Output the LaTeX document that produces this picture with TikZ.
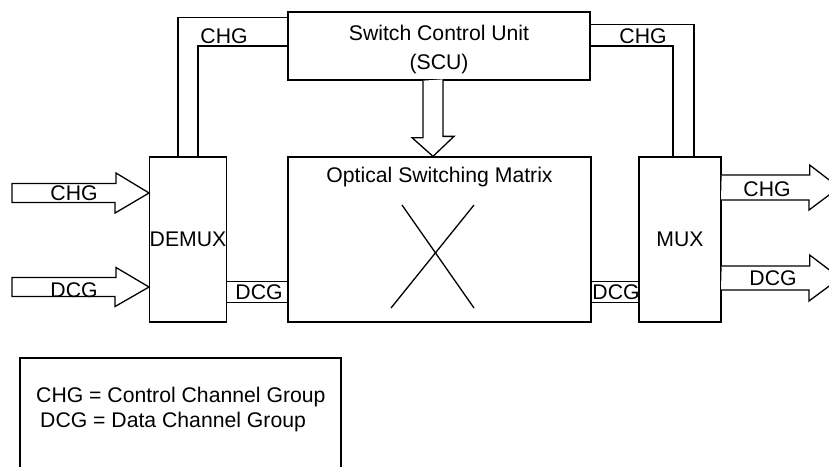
\documentclass[tikz,border=0pt]{standalone}
\usepackage{fontspec}
\setmainfont{Liberation Sans}
\usetikzlibrary{positioning}
\tikzstyle{unit}=[rectangle, draw=black, line width=1.3pt, inner sep=0pt, text centered]
\tikzstyle{line}=[-, line width=1.3pt]
\tikzstyle{fat}=[-, line width=1.3pt, line join=miter, fill=white]
\tikzstyle{lbl}=[inner sep=0pt, anchor=base]

\begin{document}
\begin{tikzpicture}[x=1pt, y=-1pt, font=\fontsize{21.2}{29}\selectfont]
    \path[use as bounding box, clip] (0,0) rectangle (829,466);

    \node (scu) [unit, minimum width=302pt, minimum height=68pt] at (439,46) {};
    \node (scutext) [lbl, align=center] at ([yshift=-58pt]scu.north) {Switch Control Unit\\(SCU)};
    \node (osm) [unit, minimum width=303pt, minimum height=165pt] at (439.5,239.5) {};
    \node (osmtext) [lbl] at ([yshift=-26pt]osm.north) {Optical Switching Matrix};
    \node (demux) [unit, minimum width=76pt, minimum height=165pt] at (188,239.5) {DEMUX};
    \node (mux) [unit, minimum width=82pt, minimum height=165pt] at (680,239.5) {MUX};

    \coordinate (chgsrc) at (12,193);
    \coordinate (dcgsrc) at (12,287);
    \coordinate (chgdst) at (839,187.5);
    \coordinate (dcgdst) at (840,278);

    % control channel groups to and from the SCU
    \draw[line] ([xshift=-10pt]demux.north) |- ([yshift=-6pt]scu.north west);
    \draw[line] ([xshift=10pt]demux.north) |- (scu.west);
    \draw[line] ([xshift=14pt]mux.north) |- ([yshift=-13pt]scu.north east);
    \draw[line] ([xshift=-7pt]mux.north) |- (scu.east);
    \node (chgleft) [lbl] at (224,43) {CHG};
    \node (chgright) [lbl] at (643,43) {CHG};

    % data channel groups through the matrix
    \draw[line] ([yshift=41pt]demux.south east) -- ([yshift=41pt]osm.south west);
    \draw[line] ([yshift=20pt]demux.south east) -- ([yshift=20pt]osm.south west);
    \draw[line] ([yshift=41pt]osm.south east) -- ([yshift=41pt]mux.south west);
    \draw[line] ([yshift=20pt]osm.south east) -- ([yshift=20pt]mux.south west);
    \node (dcgleft) [lbl] at (259,299) {DCG};
    \node (dcgright) [lbl] at (616,299) {DCG};

    % switch control
    \draw[fat] ([xshift=-16pt]scu.south) -- ++(0,57) -- ++(-11,0) -- ([xshift=-6.5pt]osm.north)
        -- ++(21,-20) -- ++(-11,0) -- ++(0,-57);
    \draw[line] ([shift={(-37.5,-34.5)}]osm.center) -- ([shift={(34.5,68.5)}]osm.center);
    \draw[line] ([shift={(34.5,-34.5)}]osm.center) -- ([shift={(-48.5,68.5)}]osm.center);

    % inputs
    \draw[fat] ([yshift=9.5pt]chgsrc) -- ++(104,0) -- ++(0,-10.5) -- (demux.west |- chgsrc)
        -- ++(-34,20) -- ++(0,-10.5) -- ([yshift=-9.5pt]chgsrc) -- cycle;
    \draw[fat] ([yshift=9.5pt]dcgsrc) -- ++(104,0) -- ++(0,-10) -- (demux.west |- dcgsrc)
        -- ++(-34,19.5) -- ++(0,-10) -- ([yshift=-9.5pt]dcgsrc) -- cycle;
    \node (chgin) [lbl] at (74,200) {CHG};
    \node (dcgin) [lbl] at (74,297) {DCG};

    % outputs
    \draw[fat] (mux.east |- chgdst) ++(0,-12.5) -- ++(88,0) -- ++(0,-10) -- (chgdst)
        -- ++(-30,22.5) -- ++(0,-10) -- ++(-88,0);
    \draw[fat] (mux.east |- dcgdst) ++(0,-12) -- ++(88,0) -- ++(0,-11) -- (dcgdst)
        -- ++(-31,23) -- ++(0,-11) -- ++(-88,0);
    \node (chgout) [lbl] at (767,196) {CHG};
    \node (dcgout) [lbl] at (773,285) {DCG};

    % legend
    \node (legend) [unit, minimum width=321pt, minimum height=122pt] at (180.5,419) {};
    \node (legchg) [lbl, anchor=base west] at (36,402) {CHG = Control Channel Group};
    \node (legdcg) [lbl, anchor=base west] at (40,427) {DCG = Data Channel Group};
\end{tikzpicture}
\end{document}
